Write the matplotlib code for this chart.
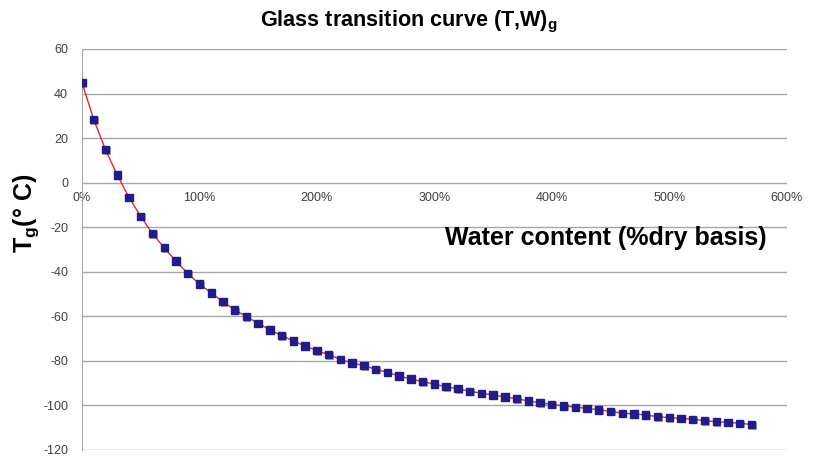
import matplotlib
matplotlib.use("Agg")
import matplotlib.pyplot as plt
import matplotlib.patheffects as pe

plt.rcParams['font.family'] = 'Liberation Sans'
plt.rcParams['mathtext.fontset'] = 'custom'
plt.rcParams['mathtext.rm'] = 'Liberation Sans'
plt.rcParams['mathtext.bf'] = 'Liberation Sans:bold'
plt.rcParams['axes.unicode_minus'] = False

# ─── Data ────────────────────────────────────────────────────────────────────
water_pct = [0, 10, 20, 30, 40, 50, 60, 70, 80, 90,
             100, 110, 120, 130, 140, 150, 160, 170, 180, 190,
             200, 210, 220, 230, 240, 250, 260, 270, 280, 290,
             300, 310, 320, 330, 340, 350, 360, 370, 380, 390,
             400, 410, 420, 430, 440, 450, 460, 470, 480, 490,
             500, 510, 520, 530, 540, 550, 560, 570]
tg_c = [44.9, 28.3, 14.8, 3.5, -6.6, -15.1, -22.9, -29.2, -35.2, -40.7,
        -45.5, -49.5, -53.4, -57.1, -60.1, -63.1, -66.1, -68.6, -71.1, -73.3,
        -75.4, -77.2, -79.3, -81.0, -82.1, -83.8, -85.1, -86.8, -88.1, -89.3,
        -90.4, -91.6, -92.5, -93.6, -94.5, -95.3, -96.2, -97.0, -98.0, -98.8,
        -99.5, -100.2, -100.8, -101.3, -102.0, -102.6, -103.5, -103.8, -104.3, -105.0,
        -105.5, -105.8, -106.2, -106.8, -107.3, -107.6, -108.0, -108.6]

x_ticks = [0, 100, 200, 300, 400, 500, 600]
y_ticks = [-120, -100, -80, -60, -40, -20, 0, 20, 40, 60]

GRID = '#A6A6A6'
TICK = '#404040'

# ─── Figure ──────────────────────────────────────────────────────────────────
fig = plt.figure(figsize=(8.15, 4.57), dpi=100)
ax = fig.add_axes([82 / 815, 1 - 450 / 457, (786.7 - 82) / 815, (450 - 49) / 457])

ax.plot(water_pct, tg_c, color='#E8242A', lw=1.0, zorder=2)
ax.plot(water_pct, tg_c, ls='none', marker='s', ms=5.3,
        mfc='#1F1C8C', mec='#1F1C8C', zorder=3,
        path_effects=[pe.SimplePatchShadow(offset=(1, -1), alpha=0.35), pe.Normal()])

ax.set_xlim(0, 600)
ax.set_ylim(-120, 60)
ax.set_yticks(y_ticks)
ax.set_xticks(x_ticks)
ax.set_xticklabels([f"{v}%" for v in x_ticks])

# horizontal gridlines only
ax.grid(axis='y', color=GRID, lw=1)
ax.set_axisbelow(True)

# x axis sits at y = 0
ax.spines['bottom'].set_position(('data', 0))
ax.spines['bottom'].set_visible(False)
ax.spines['top'].set_visible(False)
ax.spines['right'].set_visible(False)
ax.spines['left'].set_color(GRID)
ax.tick_params(axis='both', length=0, labelsize=9, labelcolor=TICK)
ax.tick_params(axis='y', pad=10)
ax.tick_params(axis='x', pad=7)
for lbl in ax.get_xticklabels():
    lbl.set_clip_on(False)

# ─── Texts ───────────────────────────────────────────────────────────────────
fig.text(409 / 815, 1 - 26 / 457, r"Glass transition curve (T,W)$_\mathbf{g}$",
         ha='center', va='baseline', fontsize=15.6, fontweight='bold')
fig.text(445 / 815, 1 - 245 / 457, "Water content (%dry basis)",
         ha='left', va='baseline', fontsize=18, fontweight='bold')
fig.text(26 / 815, 1 - 213 / 457, r"T$_\mathbf{g}$(° C)",
         ha='center', va='center', rotation=90, fontsize=18, fontweight='bold')

plt.savefig("out.png", dpi=100)
